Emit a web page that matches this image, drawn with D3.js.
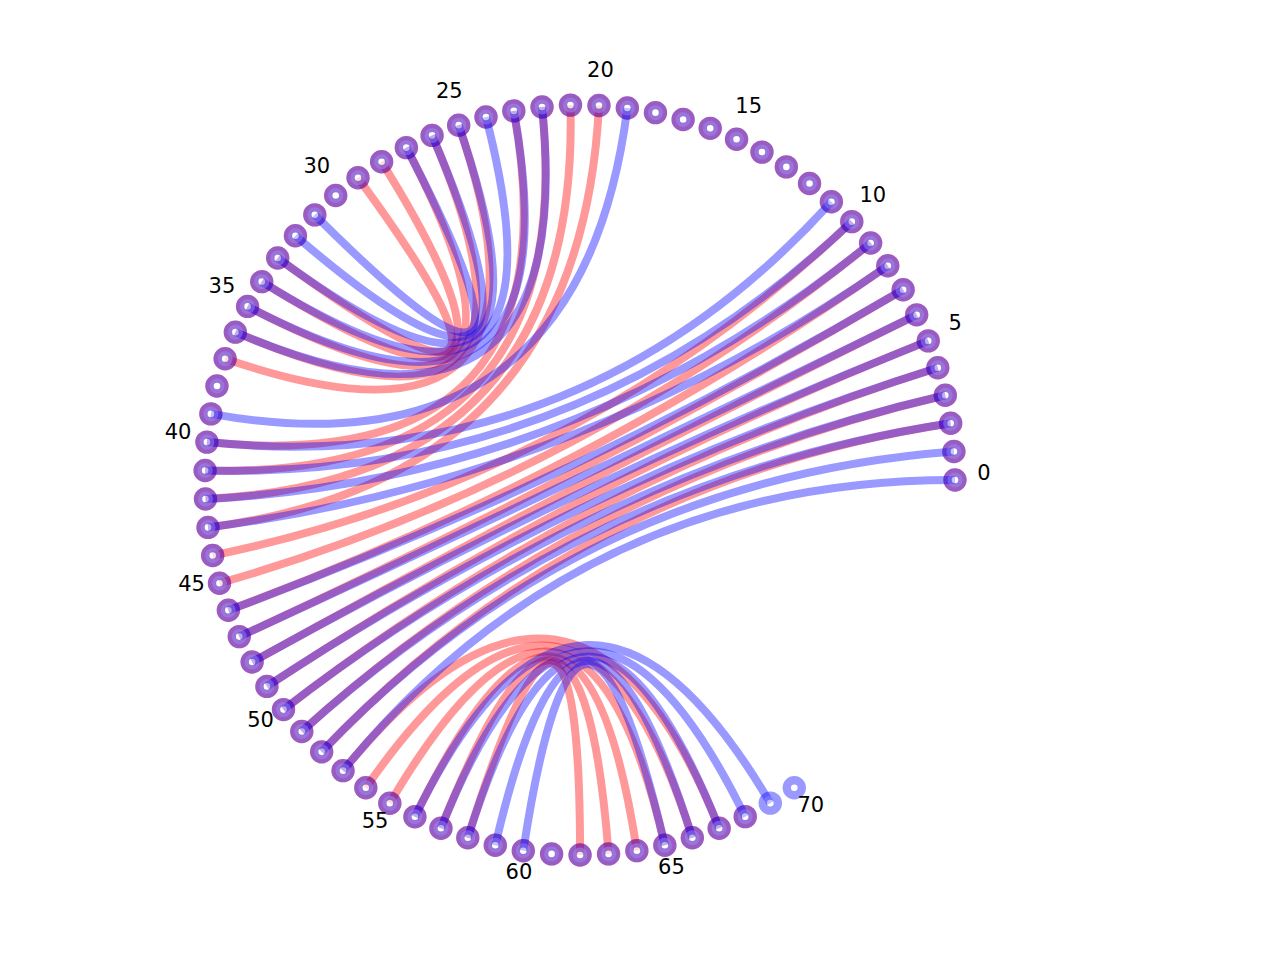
<!DOCTYPE html>
<html>
<head>
<meta charset="utf-8">
<script src="https://cdn.jsdelivr.net/npm/d3@7"></script>
<style>
  html, body { margin: 0; padding: 0; background: #ffffff; }
  svg { display: block; }
</style>
</head>
<body>
<div id="chart"></div>
<script>
// Dvije strukture na istom krugu: crvena (69 čvorova) i plava (71 čvor)
const redLength  = 69;
const blueLength = 71;

// Parovi (i, j) za crvenu strukturu
const redPairs = [
    [2, 52], [3, 51], [4, 50], [5, 49], [6, 48], [7, 47], [8, 46], [9, 45], [10, 44],
    [20, 43], [21, 42], [22, 41], [23, 40],
    [25, 37], [26, 36], [27, 35], [28, 34], [29, 33],
    [53, 67], [54, 66], [55, 65], [56, 64], [57, 63], [58, 62]
];

// Parovi (i, j) za plavu strukturu
const bluePairs = [
    [0, 53], [1, 52], [2, 51], [3, 50], [4, 49], [5, 48], [6, 47], [7, 46],
    [8, 43], [9, 42], [10, 41], [11, 40], [19, 39],
    [22, 36], [23, 35], [24, 34], [25, 33], [26, 32], [27, 31],
    [56, 69], [57, 68], [58, 67], [59, 66], [60, 65]
];

// Oznake uz svaki peti čvor
const tickLabels = [0, 5, 10, 15, 20, 25, 30, 35, 40, 45, 50, 55, 60, 65, 70];

// Dimenzije
const width  = 1280;
const height = 960;
const cx = 580, cy = 480;
const radius = 375;

const svg = d3.select("#chart")
    .append("svg")
    .attr("width", width)
    .attr("height", height)
    .attr("viewBox", `0 0 ${width} ${height}`);

// Indeks čvora -> kut (radijani), kreće od desne strane, suprotno od kazaljke
const angle = d3.scaleLinear()
    .domain([0, 70])
    .range([0, 70 * 4.355 * Math.PI / 180]);

const px = i => cx + radius * Math.cos(angle(i));
const py = i => cy - radius * Math.sin(angle(i));

// Kvadratna krivulja s kontrolnom točkom u središtu
const chord = d => {
    const p = d3.path();
    p.moveTo(px(d[0]), py(d[0]));
    p.quadraticCurveTo(cx, cy, px(d[1]), py(d[1]));
    return p.toString();
};

function drawStructure(pairs, length, color, cls) {
    const g = svg.append("g").attr("class", cls);

    // Veze
    g.selectAll(".edge")
        .data(pairs)
        .enter()
        .append("path")
        .attr("class", "edge")
        .attr("d", chord)
        .attr("fill", "none")
        .attr("stroke", color)
        .attr("stroke-opacity", 0.4)
        .attr("stroke-width", 8)
        .attr("stroke-linecap", "butt");

    // Čvorovi (prsten s bijelim središtem)
    g.selectAll(".node")
        .data(d3.range(length))
        .enter()
        .append("circle")
        .attr("class", "node")
        .attr("cx", d => px(d))
        .attr("cy", d => py(d))
        .attr("r", 7.5)
        .attr("fill", "#ffffff")
        .attr("fill-opacity", 0.4)
        .attr("stroke", color)
        .attr("stroke-opacity", 0.4)
        .attr("stroke-width", 8.4);
}

drawStructure(redPairs, redLength, "#ff0000", "red-structure");
drawStructure(bluePairs, blueLength, "#0000ff", "blue-structure");

// Oznake
const labelRadius = radius + 29;
svg.append("g")
    .selectAll("text")
    .data(tickLabels)
    .enter()
    .append("text")
    .attr("x", d => cx + labelRadius * Math.cos(angle(d)))
    .attr("y", d => cy - labelRadius * Math.sin(angle(d)))
    .attr("text-anchor", "middle")
    .style("font-family", "'DejaVu Sans', sans-serif")
    .style("font-size", "21px")
    .style("fill", "#000000")
    .text(d => d);
</script>
</body>
</html>
